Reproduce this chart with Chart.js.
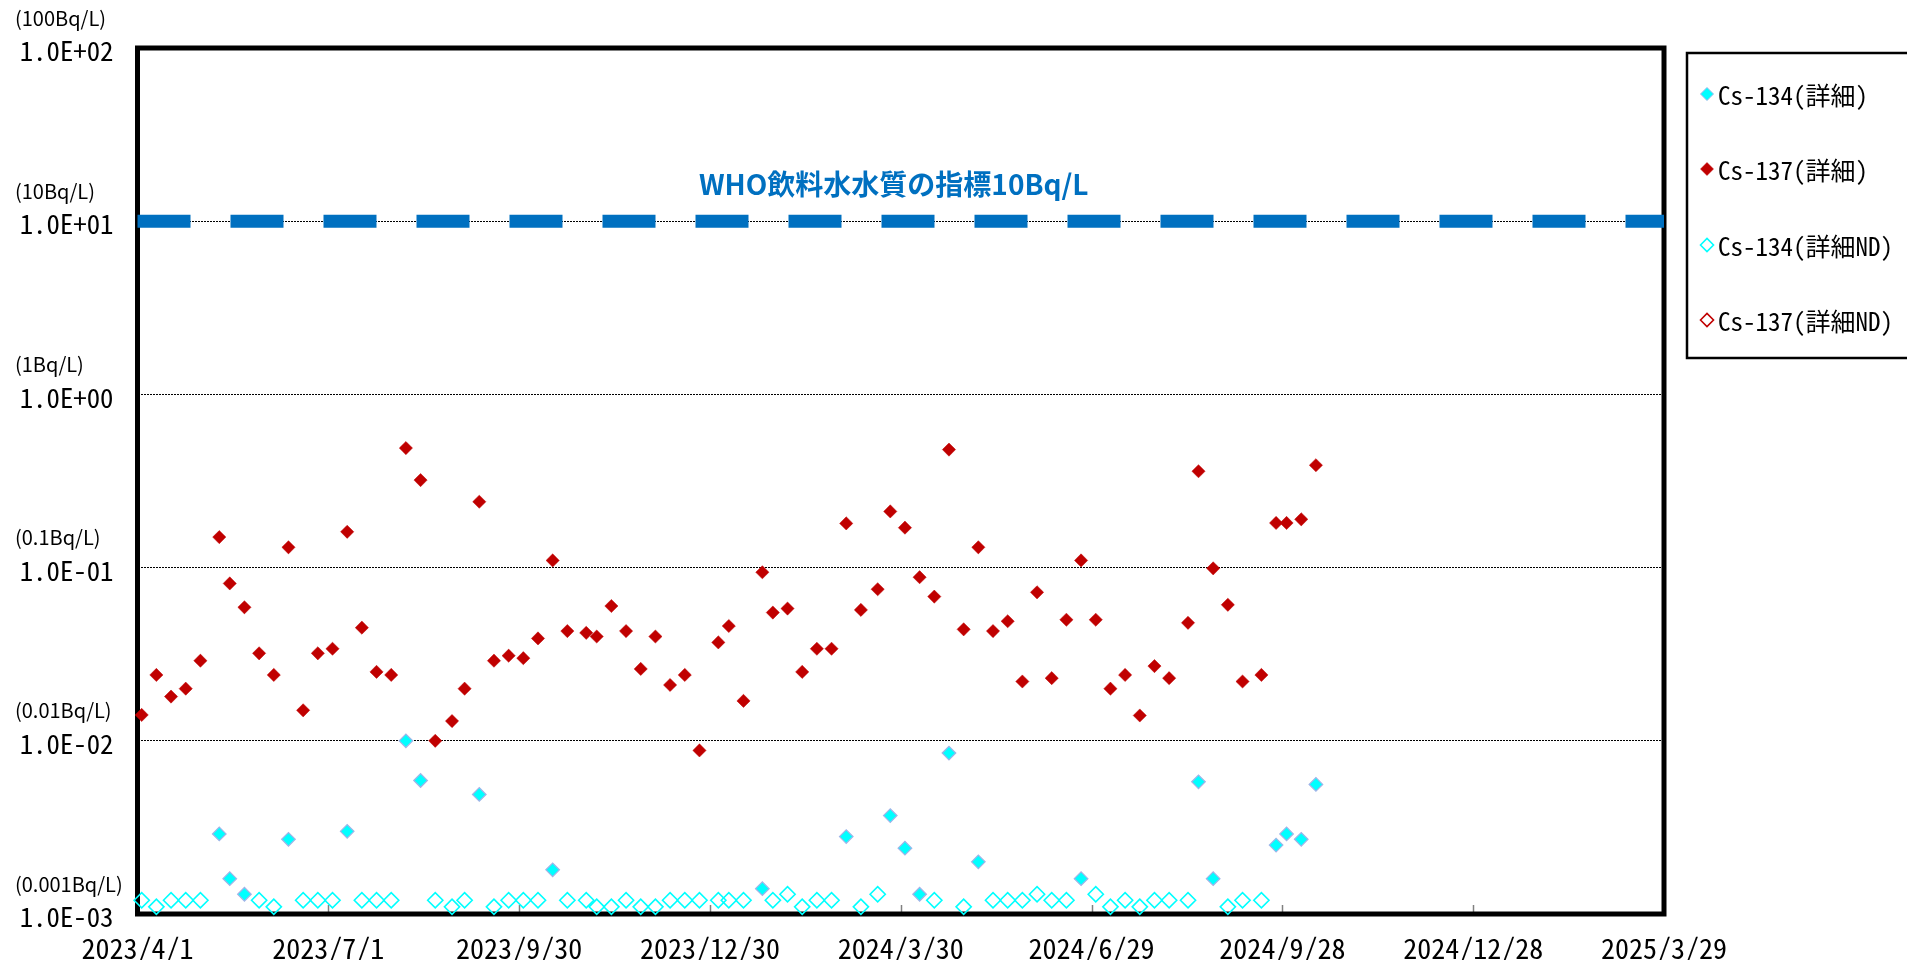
<!DOCTYPE html>
<html><head><meta charset="utf-8">
<script src="https://cdn.jsdelivr.net/npm/chart.js@4.4.1/dist/chart.umd.min.js"></script>
<style>html,body{margin:0;padding:0;background:#fff;overflow:hidden}#wrap{width:1907px;height:960px;position:relative}</style>
</head><body><div id="wrap"><canvas id="c" width="1907" height="960"></canvas></div>
<script>
// ---- data ----
const xTickDays = [0, 91, 182, 273, 364, 455, 546, 637, 728]; // days since 2023/4/1
const xTickLabels = ['2023/4/1', '2023/7/1', '2023/9/30', '2023/12/30', '2024/3/30', '2024/6/29', '2024/9/28', '2024/12/28', '2025/3/29'];
const yTickValues = [0.001, 0.01, 0.1, 1, 10, 100];
const yTickLabels = ['1.0E-03', '1.0E-02', '1.0E-01', '1.0E+00', '1.0E+01', '1.0E+02'];
const yUnitLabels = ['(0.001Bq/L)', '(0.01Bq/L)', '(0.1Bq/L)', '(1Bq/L)', '(10Bq/L)', '(100Bq/L)'];
const seriesNames = ['Cs-134(詳細)', 'Cs-137(詳細)', 'Cs-134(詳細ND)', 'Cs-137(詳細ND)'];
const whoLabel = 'WHO飲料水水質の指標10Bq/L';
const whoLimit = 10;

const sampleDays = [2,9,16,23,30,39,44,51,58,65,72,79,86,93,100,107,114,121,128,135,142,150,156,163,170,177,184,191,198,205,214,219,226,233,240,247,254,261,268,277,282,289,298,303,310,317,324,331,338,345,353,359,366,373,380,387,394,401,408,415,422,429,436,443,450,457,464,471,478,485,492,501,506,513,520,527,536,543,548,555,562];
const cs137Values = [0.0141,0.024,0.018,0.020,0.029,0.150,0.081,0.059,0.032,0.024,
  0.131,0.015,0.032,0.034,0.161,0.045,0.025,0.024,0.49,0.32,
  0.010,0.013,0.020,0.24,0.029,0.031,0.030,0.039,0.110,0.043,
  0.042,0.040,0.060,0.043,0.026,0.040,0.021,0.024,0.0088,0.037,
  0.046,0.017,0.094,0.055,0.058,0.025,0.034,0.034,0.180,0.057,
  0.075,0.211,0.170,0.088,0.068,0.48,0.044,0.131,0.043,0.049,
  0.022,0.072,0.023,0.050,0.110,0.050,0.020,0.024,0.014,0.027,
  0.023,0.048,0.36,0.099,0.061,0.022,0.024,0.181,0.181,0.190,0.39];
const cs134Days = [39,44,51,72,100,128,135,163,198,298,338,359,366,373,387,401,450,506,513,543,548,555,562];
const cs134Values = [0.0029,0.0016,0.0013,0.0027,0.0030,0.0100,0.0059,0.0049,0.0018,0.0014,0.0028,0.0037,0.0024,0.0013,0.0085,0.0020,0.0016,0.0058,0.0016,0.0025,0.0029,0.0027,0.0056];
const cs134NDDays = [2,9,16,23,30,58,65,79,86,93,107,114,121,142,150,156,170,177,184,191,205,214,219,226,233,240,247,254,261,268,277,282,289,303,310,317,324,331,345,353,380,394,408,415,422,429,436,443,457,464,471,478,485,492,501,520,527,536];
const cs134NDValues = [0.0012,0.0011,0.0012,0.0012,0.0012,
  0.0012,0.0011,0.0012,0.0012,0.0012,
  0.0012,0.0012,0.0012,0.0012,0.0011,
  0.0012,0.0011,0.0012,0.0012,0.0012,
  0.0012,0.0012,0.0011,0.0011,0.0012,
  0.0011,0.0011,0.0012,0.0012,0.0012,
  0.0012,0.0012,0.0012,0.0012,0.0013,
  0.0011,0.0012,0.0012,0.0011,0.0013,
  0.0012,0.0011,0.0012,0.0012,0.0012,
  0.0013,0.0012,0.0012,0.0013,0.0011,
  0.0012,0.0011,0.0012,0.0012,0.0012,
  0.0011,0.0012,0.0012];
const cs137NDDays = [];
const cs137NDValues = [];

// ---- fonts ----
function fontAvailable(name) {
  const ctx = document.createElement('canvas').getContext('2d');
  const s = '0123456789/ABCmwil';
  for (const base of ['monospace', 'serif', 'sans-serif']) {
    ctx.font = '40px ' + base; const a = ctx.measureText(s).width;
    ctx.font = '40px "' + name + '", ' + base; const b = ctx.measureText(s).width;
    if (Math.abs(a - b) > 0.5) return true;
  }
  return false;
}
const hasMonoCJK = fontAvailable('Noto Sans Mono CJK JP');
const MONO = hasMonoCJK ? '"Noto Sans Mono CJK JP", "DejaVu Sans Mono", monospace' : '"DejaVu Sans Mono", monospace';
const mctx = document.createElement('canvas').getContext('2d');
mctx.font = '100px ' + MONO;
const monoRatio = mctx.measureText('0').width / 100;
const xFontSize = Math.round(14 / monoRatio * 10) / 10;
const yFontSize = Math.round(13.4 / monoRatio * 10) / 10;
const LEGEND_FONT = hasMonoCJK ? '25px "Noto Sans Mono CJK JP"' : '22px "Noto Sans CJK JP"';
const CJK = '"Noto Sans CJK JP", "Noto Sans", sans-serif';

const toXY = (xs, ys) => xs.map((d, i) => ({ x: d, y: ys[i] }));

function diamond(ctx, x, y, r) {
  ctx.beginPath();
  ctx.moveTo(x - r, y); ctx.lineTo(x, y - r); ctx.lineTo(x + r, y); ctx.lineTo(x, y + r);
  ctx.closePath();
}

const decorPlugin = {
  id: 'decor',
  beforeDatasetsDraw(chart) {
    const { ctx, chartArea: a, scales } = chart;
    ctx.save();
    // inner tick marks on x axis
    ctx.strokeStyle = '#808080'; ctx.lineWidth = 1.5;
    xTickDays.forEach(d => {
      const px = Math.round(scales.x.getPixelForValue(d)) + 0.5;
      ctx.beginPath(); ctx.moveTo(px, a.bottom - 9); ctx.lineTo(px, a.bottom); ctx.stroke();
    });
    // plot frame
    ctx.strokeStyle = '#000'; ctx.lineWidth = 5;
    ctx.strokeRect(a.left, a.top, a.right - a.left, a.bottom - a.top);
    ctx.restore();
  },
  afterDraw(chart) {
    const { ctx, chartArea: a, scales } = chart;
    ctx.save();
    // unit labels above each decade label
    ctx.fillStyle = '#000';
    ctx.font = '20px ' + CJK;
    ctx.textAlign = 'left'; ctx.textBaseline = 'middle';
    yTickValues.forEach((v, i) => {
      const py = scales.y.getPixelForValue(v);
      ctx.fillText(yUnitLabels[i], 15, py - 30);
    });
    // WHO label
    ctx.fillStyle = '#0070C0';
    ctx.font = 'bold 28px ' + CJK;
    ctx.textAlign = 'center';
    ctx.fillText(whoLabel, (a.left + a.right) / 2 - 7, scales.y.getPixelForValue(whoLimit) - 37);
    // legend
    const lx = 1687, ly = 53, lw = 240, lh = 305;
    ctx.strokeStyle = '#000'; ctx.lineWidth = 2.5;
    ctx.strokeRect(lx, ly, lw, lh);
    const itemsY = [94, 169, 245, 320];
    const styles = [
      { fill: '#00FFFF', stroke: '#A0B4E8', lw: 1 },
      { fill: '#C00000', stroke: '#C00000', lw: 0.5 },
      { fill: null, stroke: '#00FFFF', lw: 1.6 },
      { fill: null, stroke: '#C00000', lw: 1.6 }
    ];
    ctx.font = LEGEND_FONT; ctx.textAlign = 'left'; ctx.textBaseline = 'middle';
    seriesNames.forEach((name, i) => {
      const s = styles[i];
      diamond(ctx, 1707, itemsY[i], 6.5);
      if (s.fill) { ctx.fillStyle = s.fill; ctx.fill(); }
      ctx.strokeStyle = s.stroke; ctx.lineWidth = s.lw; ctx.stroke();
      ctx.fillStyle = '#000';
      ctx.fillText(name, 1718, itemsY[i] + 1);
    });
    ctx.restore();
  }
};

new Chart(document.getElementById('c'), {
  type: 'scatter',
  data: {
    datasets: [
      { label: 'WHO', type: 'line', data: [{ x: xTickDays[0], y: whoLimit }, { x: xTickDays[xTickDays.length - 1], y: whoLimit }],
        borderColor: '#0070C0', borderWidth: 13, borderDash: [53, 40], borderCapStyle: 'butt', pointRadius: 0, fill: false, clip: false, order: 5 },
      { label: seriesNames[2], data: toXY(cs134NDDays, cs134NDValues), pointStyle: 'rectRot', pointRadius: 7.6,
        backgroundColor: 'rgba(0,0,0,0)', borderColor: '#00FFFF', borderWidth: 1.6, clip: false, order: 4 },
      { label: seriesNames[3], data: toXY(cs137NDDays, cs137NDValues), pointStyle: 'rectRot', pointRadius: 7.6,
        backgroundColor: 'rgba(0,0,0,0)', borderColor: '#C00000', borderWidth: 1.6, clip: false, order: 3 },
      { label: seriesNames[0], data: toXY(cs134Days, cs134Values), pointStyle: 'rectRot', pointRadius: 6.8,
        backgroundColor: '#00FFFF', borderColor: '#A0B4E8', borderWidth: 1.2, clip: false, order: 2 },
      { label: seriesNames[1], data: toXY(sampleDays, cs137Values), pointStyle: 'rectRot', pointRadius: 6.6,
        backgroundColor: '#C00000', borderColor: '#C00000', borderWidth: 0.5, clip: false, order: 1 }
    ]
  },
  options: {
    responsive: false, animation: false, devicePixelRatio: 1,
    layout: { padding: { top: 48, right: 243, left: 0, bottom: 0 } },
    plugins: { legend: { display: false }, tooltip: { enabled: false } },
    events: [],
    scales: {
      x: {
        type: 'linear', min: xTickDays[0], max: xTickDays[xTickDays.length - 1],
        afterBuildTicks: s => { s.ticks = xTickDays.map(v => ({ value: v })); },
        afterFit: s => { s.height = 46; },
        grid: { drawOnChartArea: false, drawTicks: false },
        border: { display: false },
        ticks: {
          autoSkip: false, maxRotation: 0, padding: 18, color: '#000',
          font: { family: MONO, size: xFontSize },
          callback: v => { const i = xTickDays.indexOf(v); return i >= 0 ? xTickLabels[i] : ''; }
        }
      },
      y: {
        type: 'logarithmic', min: yTickValues[0], max: yTickValues[yTickValues.length - 1],
        afterBuildTicks: s => { s.ticks = yTickValues.map(v => ({ value: v, major: true })); },
        afterFit: s => { s.width = 137.5; },
        grid: { color: '#000', lineWidth: 1, drawTicks: false },
        border: { display: false, dash: [2, 1] },
        ticks: {
          padding: 24, color: '#000', labelOffset: 3,
          font: { family: MONO, size: yFontSize },
          callback: v => { const i = yTickValues.findIndex(t => Math.abs(Math.log10(t) - Math.log10(v)) < 1e-6); return i >= 0 ? yTickLabels[i] : ''; }
        }
      }
    }
  },
  plugins: [decorPlugin]
});
</script>
</body></html>
